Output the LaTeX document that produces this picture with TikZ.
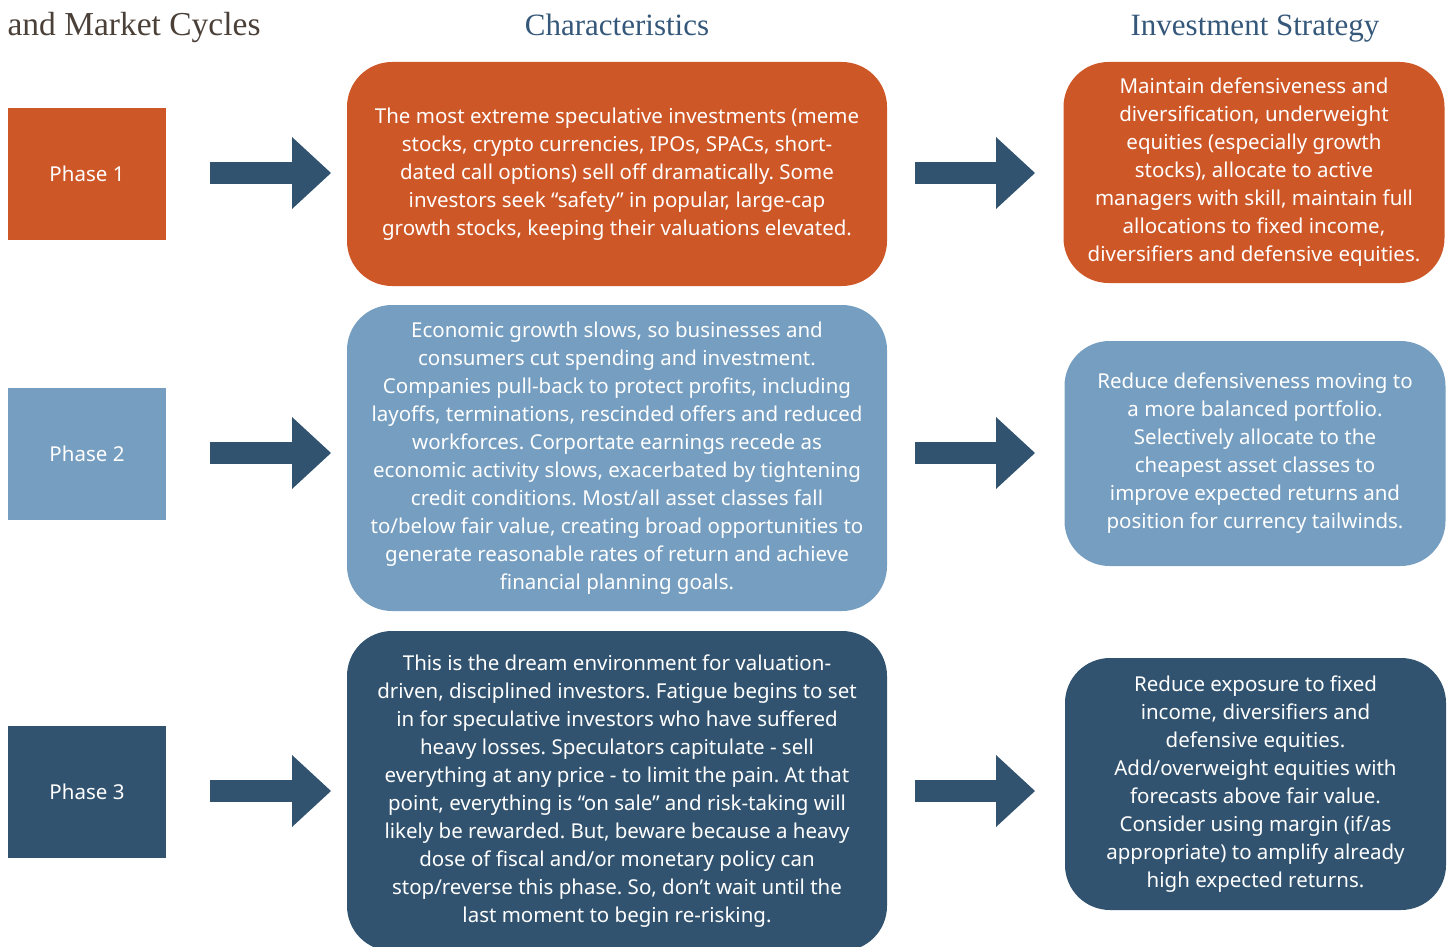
\documentclass[tikz,border=0pt]{standalone}
\usepackage{fontspec}
\setmainfont{Noto Sans}
\newfontfamily\headfont{Liberation Serif}
\usetikzlibrary{arrows.meta}
\definecolor{phaseone}{HTML}{CE5727}
\definecolor{phasetwo}{HTML}{769EC0}
\definecolor{phasethree}{HTML}{31536F}
\definecolor{headgrey}{HTML}{4A4038}
\definecolor{headblue}{HTML}{35587A}
\frenchspacing
\begin{document}
\begin{tikzpicture}[x=1pt,y=-1pt,
  phasebox/.style={minimum width=158pt,minimum height=132pt,inner sep=0pt,text=white,font=\fontsize{20.5}{23}\selectfont},
  charbox/.style={rounded corners=45pt,minimum width=540pt,inner sep=0pt,text=white,align=center,font=\fontsize{20.5}{28}\selectfont},
  stratbox/.style={rounded corners=45pt,minimum width=381pt,inner sep=0pt,text=white,align=center,font=\fontsize{20.5}{28}\selectfont},
  bigarrow/.style={draw=phasethree,line width=22pt,-{Triangle[length=39pt,width=72pt,line width=0pt]}},
  head/.style={anchor=base,font=\headfont\fontsize{31}{36}\selectfont}]
\useasboundingbox (0,0) rectangle (1448,947);
\clip (0,0) rectangle (1448,947);
\node[head,anchor=base west,text=headgrey,font=\headfont\fontsize{33.5}{36}\selectfont] (t1) at (4,36) {and Market Cycles};
\node[head,text=headblue] (t2) at (617,36) {Characteristics};
\node[head,text=headblue] (t3) at (1255,36) {Investment Strategy};
\node[phasebox,fill=phaseone] (ph1) at (87,174) {Phase 1};
\node[phasebox,fill=phasetwo] (ph2) at (87,453.5) {Phase 2};
\node[phasebox,fill=phasethree] (ph3) at (87,791.5) {Phase 3};
\node[charbox,fill=phaseone,minimum height=224pt] (ch1) at (617,174) {The most extreme speculative investments (meme\\
stocks, crypto currencies, IPOs, SPACs, short-\\
dated call options) sell off dramatically. Some\\
investors seek “safety” in popular, large-cap\\
growth stocks, keeping their valuations elevated.};
\node[charbox,fill=phasetwo,minimum height=306pt] (ch2) at (617,458) {Economic growth slows, so businesses and\\
consumers cut spending and investment.\\
Companies pull-back to protect profits, including\\
layoffs, terminations, rescinded offers and reduced\\
workforces. Corportate earnings recede as\\
economic activity slows, exacerbated by tightening\\
credit conditions. Most/all asset classes fall\\
to/below fair value, creating broad opportunities to\\
generate reasonable rates of return and achieve\\
financial planning goals.};
\node[charbox,fill=phasethree,minimum height=320pt] (ch3) at (617,791) {This is the dream environment for valuation-\\
driven, disciplined investors. Fatigue begins to set\\
in for speculative investors who have suffered\\
heavy losses. Speculators capitulate - sell\\
everything at any price - to limit the pain. At that\\
point, everything is “on sale” and risk-taking will\\
likely be rewarded. But, beware because a heavy\\
dose of fiscal and/or monetary policy can\\
stop/reverse this phase. So, don’t wait until the\\
last moment to begin re-risking.};
\node[stratbox,fill=phaseone,minimum height=221pt] (st1) at (1254,172.5) {Maintain defensiveness and\\
diversification, underweight\\
equities (especially growth\\
stocks), allocate to active\\
managers with skill, maintain full\\
allocations to fixed income,\\
diversifiers and defensive equities.};
\node[stratbox,fill=phasetwo,minimum height=225pt] (st2) at (1255,453.5) {Reduce defensiveness moving to\\
a more balanced portfolio.\\
Selectively allocate to the\\
cheapest asset classes to\\
improve expected returns and\\
position for currency tailwinds.};
\node[stratbox,fill=phasethree,minimum height=252pt] (st3) at (1255.5,784) {Reduce exposure to fixed\\
income, diversifiers and\\
defensive equities.\\
Add/overweight equities with\\
forecasts above fair value.\\
Consider using margin (if/as\\
appropriate) to amplify already\\
high expected returns.};
\foreach \r/\y in {1/173,2/453,3/791}{
  \coordinate (pa\r) at (210,\y);
  \coordinate (pb\r) at (331,\y);
  \coordinate (ca\r) at (915,\y);
  \coordinate (cb\r) at (1035,\y);
  \draw[bigarrow] (pa\r) -- (pb\r);
  \draw[bigarrow] (ca\r) -- (cb\r);
}
\end{tikzpicture}
\end{document}
